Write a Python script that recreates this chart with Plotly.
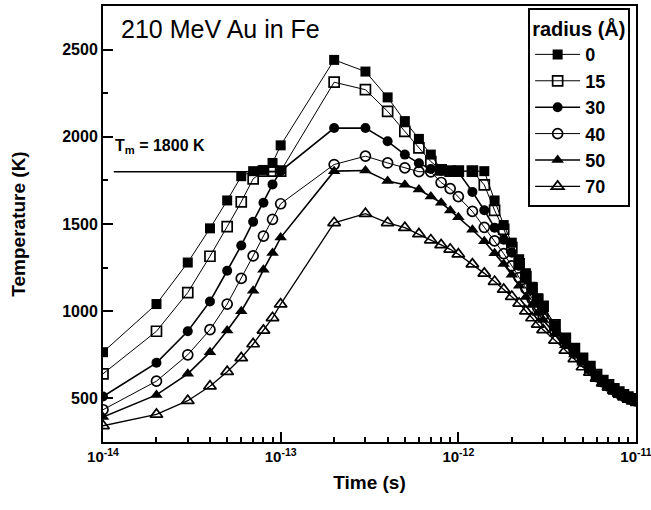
import plotly.graph_objects as go

# ---------------- data ----------------
time_s = [1e-14, 2e-14, 3e-14, 4e-14, 5e-14, 6e-14, 7e-14, 8e-14, 9e-14,
          1e-13, 2e-13, 3e-13, 4e-13, 5e-13, 6e-13, 7e-13, 8e-13, 9e-13,
          1.0e-12, 1.2e-12, 1.4e-12, 1.6e-12, 1.8e-12, 2.0e-12, 2.2e-12, 2.4e-12,
          2.6e-12, 2.8e-12, 3.0e-12,
          3.5e-12, 4.0e-12, 4.5e-12, 5.0e-12, 5.5e-12, 6.0e-12, 6.5e-12, 7.0e-12,
          7.5e-12, 8.0e-12, 8.5e-12, 9.0e-12, 9.5e-12, 1.0e-11]

r0 = [765, 1041, 1279, 1475, 1635, 1774, 1803, 1810, 1850,
      1951, 2441, 2374, 2226, 2090, 1988, 1898, 1815, 1803,
      1803, 1803, 1803, 1635, 1494, 1393, 1298, 1218, 1140, 1074, 1030,
      920, 842, 784, 728, 680, 633, 600, 575, 553, 535, 519, 506, 496, 488]

r15 = [641, 885, 1107, 1315, 1485, 1627, 1759, 1803, 1803,
       1803, 2313, 2270, 2146, 2031, 1936, 1858, 1810, 1803,
       1803, 1803, 1724, 1578, 1470, 1365, 1272, 1198, 1132, 1068, 1028,
       922, 845, 786, 730, 682, 636, 602, 577, 555, 536, 520, 507, 497, 489]

r30 = [511, 704, 885, 1056, 1232, 1377, 1513, 1622, 1727,
       1803, 2050, 2050, 1974, 1898, 1848, 1815, 1805, 1803,
       1798, 1684, 1579, 1479, 1410, 1335, 1260, 1188, 1118, 1058, 1005,
       905, 830, 772, 720, 674, 630, 598, 573, 552, 534, 518, 505, 495, 487]

r40 = [435, 599, 750, 894, 1041, 1188, 1317, 1431, 1527,
       1616, 1841, 1889, 1850, 1822, 1800, 1799, 1738, 1703,
       1657, 1572, 1481, 1403, 1330, 1260, 1193, 1130, 1070, 1020, 975,
       885, 815, 760, 712, 668, 625, 595, 571, 550, 532, 517, 504, 494, 486]

r50 = [393, 520, 641, 765, 889, 1000, 1117, 1238, 1333,
       1422, 1803, 1807, 1746, 1725, 1698, 1657, 1622, 1578,
       1538, 1467, 1401, 1332, 1270, 1209, 1146, 1082, 1035, 990, 950,
       870, 805, 752, 705, 663, 622, 593, 569, 549, 531, 516, 503, 493, 485]

r70 = [343, 408, 487, 570, 653, 732, 812, 890, 962,
       1040, 1507, 1559, 1507, 1479, 1443, 1408, 1380, 1355,
       1327, 1270, 1217, 1170, 1125, 1084, 1045, 1000, 961, 925, 893,
       833, 775, 727, 680, 649, 614, 588, 565, 546, 528, 513, 501, 491, 483]

radius_labels = ["0", "15", "30", "40", "50", "70"]
series = [r0, r15, r30, r40, r50, r70]

melt_T = 1800
melt_line_t = [1.15e-14, 1e-13]

x_tickvals = [1e-14, 1e-13, 1e-12, 1e-11]
x_ticktext = ["10<sup>-14</sup>", "10<sup>-13</sup>", "10<sup>-12</sup>", "10<sup>-11</sup>"]
y_tickvals = [500, 1000, 1500, 2000, 2500]

# ---------------- style ----------------
FONT = "Liberation Sans, Arial, sans-serif"
symbols = ["square", "square-open", "circle", "circle-open", "triangle-up", "triangle-up-open"]
line_w = [1.0, 1.0, 1.6, 1.0, 1.6, 1.3]

fig = go.Figure()

# melting temperature line
fig.add_trace(go.Scatter(x=melt_line_t, y=[melt_T, melt_T], mode="lines",
                         line=dict(color="black", width=1.5),
                         showlegend=False, hoverinfo="skip"))

for lab, vals, sym, lw in zip(radius_labels, series, symbols, line_w):
    is_open = sym.endswith("open")
    fig.add_trace(go.Scatter(
        x=time_s, y=vals, name=lab, mode="lines+markers",
        line=dict(color="black", width=lw),
        marker=dict(symbol=sym, size=10 if "triangle" not in sym else 11,
                    color="black",
                    line=dict(color="black", width=1.7 if is_open else 0)),
    ))

minor_x = [m * 10.0 ** e for e in (-14, -13, -12) for m in range(2, 10)]

fig.update_layout(
    width=651, height=510,
    margin=dict(l=103, r=15, t=6, b=68),
    paper_bgcolor="white", plot_bgcolor="white",
    font=dict(family=FONT, color="black"),
    showlegend=True,
    legend=dict(
        x=0.989, y=0.995, xanchor="right", yanchor="top",
        bgcolor="white", bordercolor="black", borderwidth=2,
        font=dict(family=FONT, size=18, color="black", weight="bold"),
        title=dict(text="radius (Å)", font=dict(family=FONT, size=20, weight="bold")),
        itemwidth=45, tracegroupgap=0,
    ),
    xaxis=dict(
        type="log", range=[-14, -11], automargin=False,
        tickmode="array", tickvals=x_tickvals, ticktext=x_ticktext,
        ticks="inside", ticklen=10, tickwidth=2, tickcolor="black",
        minor=dict(tickmode="array", tickvals=minor_x, ticks="inside",
                   ticklen=5, tickwidth=1.5, tickcolor="black", showgrid=False),
        showline=True, linewidth=2, linecolor="black", mirror=True,
        showgrid=False, zeroline=False, ticklabeloverflow="allow",
        tickfont=dict(family=FONT, size=15, weight="bold"),
        title=dict(text="Time (s)", font=dict(family=FONT, size=19, weight="bold"),
                   standoff=12),
    ),
    yaxis=dict(
        range=[250, 2750], automargin=False,
        tickmode="array", tickvals=y_tickvals,
        ticks="inside", ticklen=10, tickwidth=2, tickcolor="black",
        minor=dict(dtick=250, tick0=0, ticks="inside", ticklen=5, tickwidth=1.5,
                   tickcolor="black", showgrid=False),
        showline=True, linewidth=2, linecolor="black", mirror=True,
        showgrid=False, zeroline=False,
        tickfont=dict(family=FONT, size=16, weight="bold"),
        title=dict(text="Temperature (K)", font=dict(family=FONT, size=19, weight="bold"),
                   standoff=32),
    ),
    annotations=[
        dict(text="210 MeV Au in Fe", xref="paper", yref="paper", x=0.03, y=0.947,
             xanchor="left", yanchor="middle", showarrow=False,
             font=dict(family=FONT, size=25, color="black")),
        dict(text="T<sub>m</sub> = 1800 K", xref="paper", yref="paper", x=0.019, y=0.677,
             xanchor="left", yanchor="middle", showarrow=False,
             font=dict(family=FONT, size=16, color="black", weight="bold")),
    ],
)

fig.write_html("out.html", config={"displayModeBar": False},
               post_script="document.body.style.margin='0';document.body.style.padding='0';")
